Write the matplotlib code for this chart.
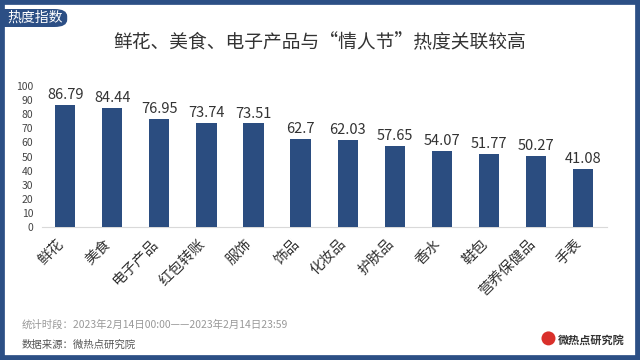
import matplotlib.pyplot as plt
from matplotlib.patches import FancyBboxPatch, Rectangle, Circle
from matplotlib.transforms import ScaledTranslation

plt.rcParams['font.family'] = ['Noto Sans CJK SC', 'DejaVu Sans']

categories = ['鲜花', '美食', '电子产品', '红包转账', '服饰', '饰品', '化妆品',
              '护肤品', '香水', '鞋包', '营养保健品', '手表']
values = [86.79, 84.44, 76.95, 73.74, 73.51, 62.7, 62.03, 57.65, 54.07, 51.77, 50.27, 41.08]
value_labels = ['86.79', '84.44', '76.95', '73.74', '73.51', '62.7', '62.03',
                '57.65', '54.07', '51.77', '50.27', '41.08']
yticks = list(range(0, 101, 10))

navy = '#2c4f85'
bar_color = '#2b4d80'

fig = plt.figure(figsize=(6.4, 3.6), dpi=100)
fig.patch.set_facecolor('white')

# frame around the picture
fig.patches.append(Rectangle((0, 0), 1, 1, transform=fig.transFigure, fill=False,
                             edgecolor=navy, linewidth=7, zorder=10))

# tab at top-left
fig.patches.append(FancyBboxPatch((-0.02, 0.925), 0.125, 0.05,
                                  boxstyle='round,pad=0,rounding_size=0.02',
                                  transform=fig.transFigure, facecolor=navy,
                                  edgecolor='none', zorder=11))
fig.text(0.012, 0.95, '热度指数', color='white', fontsize=10, va='center', ha='left',
         zorder=12)

fig.text(0.5, 0.88, '鲜花、美食、电子产品与“情人节”热度关联较高', fontsize=13.5,
         ha='center', va='center', color='#333333')

ax = fig.add_axes([0.065, 0.369, 0.883, 0.392])
x = list(range(len(categories)))
ax.bar(x, values, width=0.43, color=bar_color, zorder=3)
for xi, v, lab in zip(x, values, value_labels):
    ax.text(xi, v + 2, lab, ha='center', va='bottom', fontsize=10.5, color='#333333')

ax.set_xlim(-0.5, len(categories) - 0.5)
ax.set_ylim(0, 100)
ax.set_yticks(yticks)
ax.tick_params(axis='y', length=0, labelsize=7.5, labelcolor='#444444', pad=6)
ax.set_xticks(x)
ax.set_xticklabels(categories, rotation=45, ha='right', rotation_mode='anchor',
                   fontsize=10.5, color='#333333')
ax.tick_params(axis='x', length=0, pad=7)
shift = ScaledTranslation(-6 / 72, 0, fig.dpi_scale_trans)
for lbl in ax.get_xticklabels():
    lbl.set_transform(lbl.get_transform() + shift)
for s in ['top', 'right', 'left']:
    ax.spines[s].set_visible(False)
ax.spines['bottom'].set_color('#d9d9d9')

fig.text(0.034, 0.097, '统计时段：2023年2月14日00:00——2023年2月14日23:59', fontsize=7.5,
         color='#999999', va='center')
fig.text(0.034, 0.042, '数据来源：微热点研究院', fontsize=7.5, color='#555555',
         va='center')

# logo
fig.patches.append(Circle((0.857 * 6.4, 0.06 * 3.6), 0.07, transform=fig.dpi_scale_trans,
                          facecolor='#d9302b', edgecolor='none'))
fig.text(0.872, 0.055, '微热点研究院', fontsize=8, fontweight='bold', color='#333333',
         va='center')

fig.savefig('out.png', dpi=100)
